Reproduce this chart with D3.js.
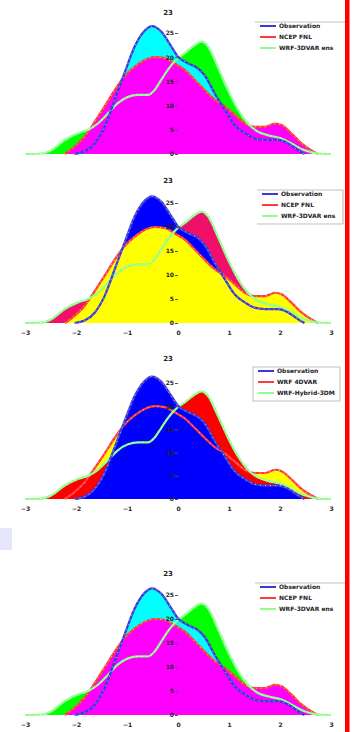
<!DOCTYPE html>
<html>
<head>
<meta charset="utf-8">
<script src="https://cdn.jsdelivr.net/npm/d3@7"></script>
<style>
  body { margin: 0; background: #fff; }
  svg { display: block; }
  text { font-family: "DejaVu Sans", sans-serif; }
</style>
</head>
<body>
<svg id="chart" width="354" height="732"></svg>
<script>
// Density curves: [x, density]
var obsDensity = [[-2.03,0],[-1.83,0.5],[-1.63,2.2],[-1.44,5.6],[-1.24,11.2],[-1.05,16.7],[-0.85,22.2],
  [-0.65,25.5],[-0.51,26.4],[-0.33,25.3],[-0.13,22.2],[0,20.1],[0.2,18.7],[0.39,17.7],[0.52,16.3],
  [0.72,12.5],[0.92,9.1],[1.11,6.0],[1.31,4.3],[1.5,3.2],[1.7,2.9],[1.96,2.9],[2.16,2.2],[2.35,0.8],[2.48,0]];
var fnlDensity = [[-2.22,0],[-2.03,1.5],[-1.83,3.6],[-1.63,6.7],[-1.44,9.8],[-1.24,13.2],[-1.05,16.0],
  [-0.85,18.0],[-0.65,19.4],[-0.46,20.0],[-0.26,19.8],[-0.07,18.7],[0.13,17.4],[0.33,15.3],[0.52,13.2],
  [0.72,11.2],[0.92,9.8],[1.11,8.1],[1.31,6.3],[1.5,5.6],[1.7,5.6],[1.9,6.3],[2.03,6.0],[2.22,4.3],
  [2.42,2.2],[2.61,0.8],[2.75,0]];
var wrfDensity = [[-3,0],[-2.68,0.1],[-2.48,0.8],[-2.22,2.9],[-1.96,4.3],[-1.76,5.0],[-1.57,6.3],
  [-1.37,8.4],[-1.18,10.5],[-0.98,11.8],[-0.78,12.2],[-0.59,12.2],[-0.46,13.2],[-0.33,15.3],[-0.2,17.4],
  [-0.07,19.1],[0.13,20.8],[0.33,22.5],[0.46,23.2],[0.59,22.2],[0.78,18.0],[0.98,13.2],[1.18,9.1],
  [1.37,6.3],[1.57,4.6],[1.76,3.9],[2.03,3.2],[2.22,2.2],[2.48,0.8],[2.75,0.1],[3,0]];

var yTicks = [0, 5, 10, 15, 20, 25];
var xTicks = [-3, -2, -1, 0, 1, 2, 3];
var panelTitles = ["23", "23", "23", "23"];
var legendNames = [
  ["Observation", "NCEP FNL", "WRF-3DVAR ens"],
  ["Observation", "NCEP FNL", "WRF-3DVAR ens"],
  ["Observation", "WRF 4DVAR", "WRF-Hybrid-3DM"],
  ["Observation", "NCEP FNL", "WRF-3DVAR ens"]
];

var svg = d3.select("#chart");

// layout of the four stacked panels
var panels = [
  { base: 154, top: 33, titleY: 15, labels: false, legTop: 22, legLeft: 255, legRight: 345, box: "top",
    fill: { obs: "#00ffff", fnl: "#ff00ff", wrf: "#00ff00" }, order: ["wrf", "obs", "fnl"] },
  { base: 323, top: 203, titleY: 183, labels: true, legTop: 190, legLeft: 257, legRight: 343, box: "tr",
    fill: { obs: "#0000ff", fnl: "#ffff00", wrf: "#f0106a" }, order: ["wrf", "obs", "fnl"] },
  { base: 499, top: 383, titleY: 361, labels: true, legTop: 367, legLeft: 253, legRight: 340, box: "all",
    fill: { obs: "#0000ff", fnl: "#ffff00", wrf: "#ff0000" }, order: ["fnl", "wrf", "obs"] },
  { base: 715, top: 595, titleY: 576, labels: true, legTop: 583, legLeft: 255, legRight: 345, box: "top",
    fill: { obs: "#00ffff", fnl: "#ff00ff", wrf: "#00ff00" }, order: ["wrf", "obs", "fnl"] }
];

var lineColor = { obs: "#3a3ad8", fnl: "#ff3a3a", wrf: "#8cff8c" };
var series = { obs: obsDensity, fnl: fnlDensity, wrf: wrfDensity };

var x = d3.scaleLinear().domain([-3, 3]).range([25, 331]);

// faint smudge at the left edge
svg.append("rect").attr("x", 0).attr("y", 528).attr("width", 12).attr("height", 22)
  .attr("fill", "#e6e6fa");

panels.forEach(function(p, i) {
  var y = d3.scaleLinear().domain([0, 25]).range([p.base, p.top]);
  var g = svg.append("g");

  var area = d3.area()
    .x(function(d) { return x(d[0]); })
    .y0(y(0))
    .y1(function(d) { return y(d[1]); })
    .curve(d3.curveMonotoneX);
  var line = d3.line()
    .x(function(d) { return x(d[0]); })
    .y(function(d) { return y(d[1]); })
    .curve(d3.curveMonotoneX);

  // filled areas, stacked in drawing order
  p.order.forEach(function(k) {
    g.append("path").datum(series[k]).attr("d", area).attr("fill", p.fill[k]);
  });

  // curves with white dotted highlight
  ["fnl", "wrf", "obs"].forEach(function(k) {
    g.append("path").datum(series[k]).attr("d", line)
      .attr("fill", "none").attr("stroke", lineColor[k]).attr("stroke-width", 2.2);
    g.append("path").datum(series[k]).attr("d", line)
      .attr("fill", "none").attr("stroke", "#fff").attr("stroke-width", 0.9)
      .attr("stroke-dasharray", "1,4").attr("opacity", 0.8);
  });

  // y axis at x = 0
  var ya = g.append("g").attr("transform", "translate(" + x(0) + ",0)")
    .call(d3.axisLeft(y).tickValues(yTicks).tickSize(3).tickPadding(1));
  ya.select(".domain").remove();
  ya.selectAll("line").attr("stroke", "#555");
  ya.selectAll("text").attr("font-size", 6).attr("font-weight", "bold").attr("fill", "#222");

  // x tick labels
  if (p.labels) {
    var xa = g.append("g").attr("transform", "translate(0," + (p.base + 6) + ")")
      .call(d3.axisBottom(x).tickValues(xTicks).tickFormat(d3.format("d")).tickSize(0).tickPadding(2));
    xa.select(".domain").remove();
    xa.selectAll("text").attr("font-size", 6).attr("font-weight", "bold").attr("fill", "#222");
  }

  // title
  g.append("text").attr("x", 168).attr("y", p.titleY).attr("text-anchor", "middle")
    .attr("font-size", 7).attr("font-weight", "bold").attr("fill", "#222").text(panelTitles[i]);

  // legend
  var lg = g.append("g");
  var rows = [p.legTop + 4, p.legTop + 15, p.legTop + 26];
  var bottom = p.legTop + 34;
  if (p.box === "all") {
    lg.append("rect").attr("x", p.legLeft).attr("y", p.legTop)
      .attr("width", p.legRight - p.legLeft).attr("height", bottom - p.legTop)
      .attr("fill", "#fff").attr("stroke", "#c8c8c8").attr("stroke-width", 1.2);
  } else {
    lg.append("line").attr("x1", p.legLeft).attr("x2", p.legRight)
      .attr("y1", p.legTop).attr("y2", p.legTop).attr("stroke", "#c0c0c0").attr("stroke-width", 1.2);
    if (p.box === "tr") {
      lg.append("line").attr("x1", p.legRight).attr("x2", p.legRight)
        .attr("y1", p.legTop).attr("y2", bottom).attr("stroke", "#c0c0c0").attr("stroke-width", 1.2);
      lg.append("line").attr("x1", p.legLeft).attr("x2", p.legRight)
        .attr("y1", bottom).attr("y2", bottom).attr("stroke", "#c0c0c0").attr("stroke-width", 1.2);
    }
  }
  ["obs", "fnl", "wrf"].forEach(function(k, j) {
    lg.append("line").attr("x1", p.legLeft + 5).attr("x2", p.legLeft + 21)
      .attr("y1", rows[j]).attr("y2", rows[j])
      .attr("stroke", lineColor[k]).attr("stroke-width", 2);
    lg.append("text").attr("x", p.legLeft + 24).attr("y", rows[j] + 2.2)
      .attr("font-size", 6).attr("font-weight", "bold").attr("fill", "#222")
      .text(legendNames[i][j]);
  });
});

// red bar at right edge
svg.append("rect").attr("x", 345).attr("y", 0).attr("width", 4.5).attr("height", 732).attr("fill", "#ff0000");
</script>
</body>
</html>
